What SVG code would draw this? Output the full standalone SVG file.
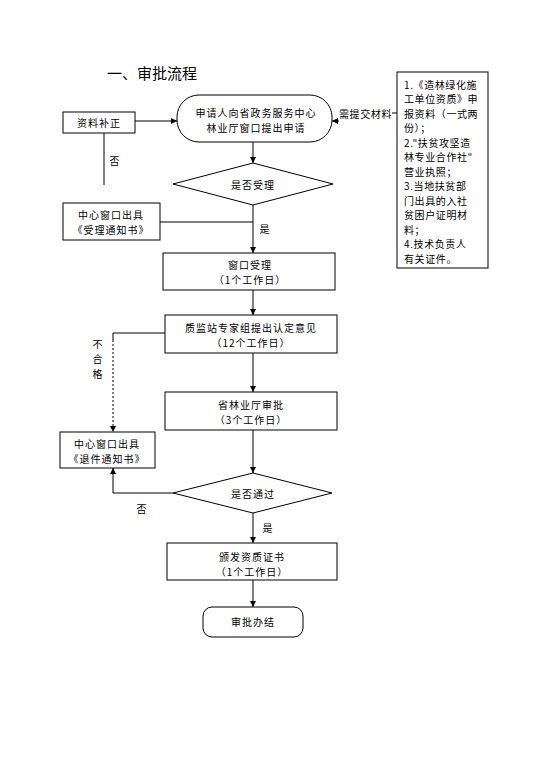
<svg xmlns="http://www.w3.org/2000/svg" width="538" height="768" viewBox="0 0 538 768">
<defs>
<marker id="ah" viewBox="0 0 10 10" refX="10" refY="5" markerWidth="6" markerHeight="6" orient="auto-start-reverse" markerUnits="userSpaceOnUse">
<path d="M0,0 L10,5 L0,10 z" fill="#000"/>
</marker>
<style>
.n{fill:#fff;stroke:#000;stroke-width:1}
.c{fill:none;stroke:#000;stroke-width:1}
.d{fill:none;stroke:#000;stroke-width:1;stroke-dasharray:2,2}
text{font-family:"Noto Sans CJK SC","Noto Sans CJK JP",sans-serif;font-size:10px;letter-spacing:1px;fill:#000}
.m{text-anchor:middle;dominant-baseline:central}
.l{dominant-baseline:central;letter-spacing:0.6px}
.t{font-size:15px;letter-spacing:0;dominant-baseline:central}
</style>
</defs>
<rect width="538" height="768" fill="#fff"/>
<text class="t" x="107" y="72">一、审批流程</text>

<g id="connectors">
<line class="c" x1="135" y1="121" x2="177" y2="121" marker-end="url(#ah)"/>
<line class="c" x1="397" y1="113" x2="392" y2="113"/>
<line class="c" x1="339" y1="121" x2="332" y2="121" marker-end="url(#ah)"/>
<line class="c" x1="253" y1="142" x2="253" y2="163" marker-end="url(#ah)"/>
<line class="c" x1="104" y1="133" x2="104" y2="185"/>
<line class="c" x1="160" y1="222" x2="253" y2="222"/>
<line class="c" x1="253" y1="205" x2="253" y2="253" marker-end="url(#ah)"/>
<line class="c" x1="253" y1="290" x2="253" y2="315" marker-end="url(#ah)"/>
<polyline class="c" points="165,333 113,333 113,340"/>
<line class="d" x1="113" y1="340" x2="113" y2="432" marker-end="url(#ah)"/>
<line class="c" x1="253" y1="353" x2="253" y2="392" marker-end="url(#ah)"/>
<line class="c" x1="253" y1="430" x2="253" y2="473" marker-end="url(#ah)"/>
<polyline class="c" points="173,493 113,493 113,468" marker-end="url(#ah)"/>
<line class="c" x1="253" y1="513" x2="253" y2="543" marker-end="url(#ah)"/>
<line class="c" x1="253" y1="580" x2="253" y2="607" marker-end="url(#ah)"/>
<text class="m" x="115" y="160">否</text>
<text class="m" x="265" y="228">是</text>
<text class="m" x="98" y="343">不</text>
<text class="m" x="98" y="358">合</text>
<text class="m" x="98" y="373">格</text>
<text class="m" x="142" y="508">否</text>
<text class="m" x="268" y="527">是</text>
</g>

<g id="apply">
<rect class="n" x="177" y="95" width="155" height="47" rx="22" ry="22"/>
<text class="m" x="256" y="112.5">申请人向省政务服务中心</text>
<text class="m" x="256" y="127.5">林业厅窗口提出申请</text>
</g>

<g id="materials-label">
<text class="l" x="339" y="113">需提交材料</text>
</g>

<g id="materials">
<rect class="n" x="397" y="72" width="91" height="196"/>
<text class="l" x="404" y="84">1.《造林绿化施</text>
<text class="l" x="404" y="98.5">工单位资质》申</text>
<text class="l" x="404" y="113">报资料（一式两</text>
<text class="l" x="404" y="127.5">份）；</text>
<text class="l" x="404" y="142">2."扶贫攻坚造</text>
<text class="l" x="404" y="156.5">林专业合作社"</text>
<text class="l" x="404" y="171">营业执照；</text>
<text class="l" x="404" y="185.5">3.当地扶贫部</text>
<text class="l" x="404" y="200">门出具的入社</text>
<text class="l" x="404" y="214.5">贫困户证明材</text>
<text class="l" x="404" y="229">料；</text>
<text class="l" x="404" y="243.5">4.技术负责人</text>
<text class="l" x="404" y="258">有关证件。</text>
</g>

<g id="supplement">
<rect class="n" x="63" y="112" width="72" height="21"/>
<text class="m" x="99" y="122.5">资料补正</text>
</g>

<g id="accept-decision">
<polygon class="n" points="253,163 333,184 253,205 173,184"/>
<text class="m" x="253" y="184">是否受理</text>
</g>

<g id="accept-notice">
<rect class="n" x="63" y="203" width="97" height="37"/>
<text class="m" x="111" y="214">中心窗口出具</text>
<text class="m" x="111" y="229">《受理通知书》</text>
</g>

<g id="window-accept">
<rect class="n" x="163" y="253" width="172" height="37"/>
<text class="m" x="250" y="264.5">窗口受理</text>
<text class="m" x="250" y="279.5">（1个工作日）</text>
</g>

<g id="expert">
<rect class="n" x="165" y="315" width="172" height="38"/>
<text class="m" x="251" y="327">质监站专家组提出认定意见</text>
<text class="m" x="251" y="342">（12个工作日）</text>
</g>

<g id="approve">
<rect class="n" x="165" y="392" width="172" height="38"/>
<text class="m" x="251" y="404.5">省林业厅审批</text>
<text class="m" x="251" y="419.5">（3个工作日）</text>
</g>

<g id="return-notice">
<rect class="n" x="60" y="432" width="95" height="36"/>
<text class="m" x="107" y="443">中心窗口出具</text>
<text class="m" x="107" y="458">《退件通知书》</text>
</g>

<g id="pass-decision">
<polygon class="n" points="253,473 332,493 253,513 173,493"/>
<text class="m" x="253" y="493">是否通过</text>
</g>

<g id="certificate">
<rect class="n" x="167" y="543" width="170" height="37"/>
<text class="m" x="252" y="556">颁发资质证书</text>
<text class="m" x="252" y="571">（1个工作日）</text>
</g>

<g id="finish">
<rect class="n" x="203" y="607" width="100" height="30" rx="9" ry="9"/>
<text class="m" x="253" y="621">审批办结</text>
</g>
</svg>
